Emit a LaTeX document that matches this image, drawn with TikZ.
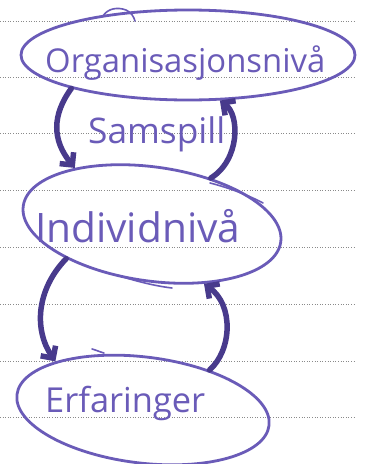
\documentclass[tikz,border=0pt]{standalone}
\usepackage{fontspec}
\setmainfont{Open Sans}
\usepackage{graphicx}
\usetikzlibrary{shapes.geometric,arrows.meta}
\definecolor{pen}{HTML}{6A5BB8}
\definecolor{ink}{HTML}{483A8C}
\definecolor{rule}{HTML}{8A8A8A}
\begin{document}
\begin{tikzpicture}[x=1pt,y=-1pt,
  bubble/.style={ellipse, draw=pen, line width=2.8pt, inner sep=0pt},
  stroke/.style={draw=pen, line width=1.6pt, line cap=round},
  link/.style={draw=ink, line width=5.5pt, line cap=round, -{Straight Barb[length=9pt,width=18pt]}},
  hand/.style={text=pen, inner sep=0pt, font=\fontsize{30}{36}\selectfont},
  ruling/.style={draw=rule, line width=0.6pt, dotted}]
\fill[white] (0,0) rectangle (366,464);
\useasboundingbox (0,0) rectangle (366,464);
\foreach \y in {21,77,133,190,247,304,361,417} \draw[ruling] (0,\y) -- (355,\y);
\node[bubble, minimum width=334pt, minimum height=90pt] (org) at (188,55) {};
\node[bubble, minimum width=260pt, minimum height=114pt, rotate=-8] (ind) at (152,224) {};
\node[bubble, minimum width=254pt, minimum height=106pt, rotate=-7] (erf) at (143,410) {};
% pen overlaps of the hand-drawn rings
\draw[stroke] (103,16) .. controls (108,8) and (118,7) .. (126,10) .. controls (131,12) and (134,17) .. (135,21);
\draw[stroke] (210,183) .. controls (230,188) and (250,196) .. (263,203);
\draw[stroke] (117,275) .. controls (135,281) and (155,286) .. (172,288);
\draw[stroke] (92,349) .. controls (96,350) and (100,352) .. (104,353);
\node[hand, anchor=base west] (torg) at (45,72) {\resizebox{280pt}{!}{Organisasjonsnivå}};
\node[hand, anchor=base west] (tsam) at (88,143) {\resizebox{137pt}{!}{Samspill}};
\node[hand, anchor=base west] (tind) at (35,242) {\resizebox{205pt}{!}{Individnivå}};
\node[hand, anchor=base west] (terf) at (45,412) {\resizebox{160pt}{!}{Erfaringer}};
\draw[link] (org.196) .. controls (52,115) and (52,140) .. (ind.152);
\draw[link] (ind.46) .. controls (240,160) and (240,115) .. (org.305);
\draw[link] (ind.210) .. controls (36,290) and (34,330) .. (erf.158);
\draw[link] (erf.38) .. controls (232,350) and (234,305) .. (ind.319);
\end{tikzpicture}
\end{document}
